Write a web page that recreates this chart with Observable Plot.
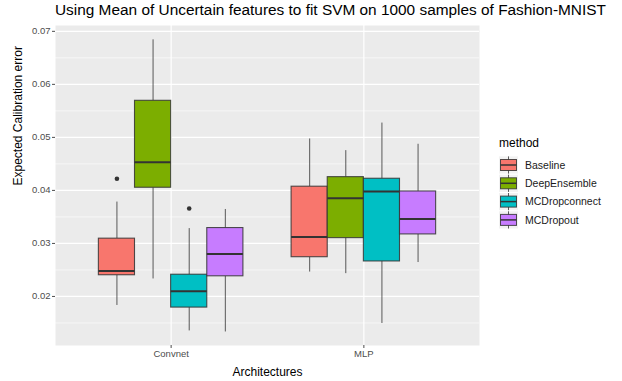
<!DOCTYPE html>
<html>
<head>
<meta charset="utf-8">
<script src="https://cdn.jsdelivr.net/npm/d3@7"></script>
<script src="https://cdn.jsdelivr.net/npm/@observablehq/plot@0.6"></script>
<style>
  html, body { margin: 0; padding: 0; background: #fff; }
  #wrap { position: relative; width: 622px; height: 381px; font-family: "Liberation Sans", Arial, sans-serif; }
  #title { position: absolute; left: 55px; top: 1px; font-size: 15.4px; color: #000; white-space: nowrap; }
  #legend { position: absolute; left: 490px; top: 130px; }
  #chart { position: absolute; left: 0; top: 0; }
</style>
</head>
<body>
<div id="wrap">
  <div id="chart"></div>
  <div id="title">Using Mean of Uncertain features to fit SVM on 1000 samples of Fashion-MNIST</div>
  <div id="legend"></div>
</div>
<script>
// ---- data ----
const architectures = ["Convnet", "MLP"];
const methods = ["Baseline", "DeepEnsemble", "MCDropconnect", "MCDropout"];
// order: Convnet (Baseline, DeepEnsemble, MCDropconnect, MCDropout), then MLP (same order)
const whiskerLow = [0.0183, 0.0233, 0.0135, 0.0133, 0.0246, 0.0243, 0.0149, 0.0264];
const q1 =         [0.0240, 0.0405, 0.0179, 0.0238, 0.0274, 0.0310, 0.0266, 0.0317];
const median =     [0.0248, 0.0453, 0.0210, 0.0280, 0.0312, 0.0385, 0.0398, 0.0346];
const q3 =         [0.0309, 0.0569, 0.0241, 0.0329, 0.0407, 0.0425, 0.0422, 0.0398];
const whiskerHigh =[0.0378, 0.0684, 0.0328, 0.0364, 0.0497, 0.0475, 0.0527, 0.0487];
const outlierArch = ["Convnet", "Convnet"];
const outlierMethod = ["Baseline", "MCDropconnect"];
const outlierValue = [0.0422, 0.0366];
const yTicks = [0.02, 0.03, 0.04, 0.05, 0.06, 0.07];
const yMinorTicks = [0.015, 0.025, 0.035, 0.045, 0.055, 0.065];
const colors = ["#F8766D", "#7CAE00", "#00BFC4", "#C77CFF"];

// ---- build table ----
const dodge = 0.75 / methods.length;
const pos = (a, m) => architectures.indexOf(a) + 1 + (methods.indexOf(m) - (methods.length - 1) / 2) * dodge;
const boxes = [];
architectures.forEach((a, ai) => methods.forEach((m, mi) => {
  const i = ai * methods.length + mi;
  boxes.push({arch: a, method: m, x: pos(a, m), x1: pos(a, m) - dodge / 2, x2: pos(a, m) + dodge / 2,
    lo: whiskerLow[i], q1: q1[i], med: median[i], q3: q3[i], hi: whiskerHigh[i]});
}));
const outliers = outlierValue.map((v, i) => ({x: pos(outlierArch[i], outlierMethod[i]), y: v}));

const plot = Plot.plot({
  width: 622, height: 381,
  marginTop: 25, marginLeft: 55, marginRight: 143, marginBottom: 36,
  style: {fontFamily: "Liberation Sans, Arial, sans-serif", background: "transparent"},
  x: {domain: [0.4, 2.6], label: null},
  y: {domain: [0.01075, 0.0711], label: null},
  color: {domain: methods, range: colors},
  marks: [
    Plot.frame({fill: "#EBEBEB", stroke: null}),
    Plot.gridY({ticks: yMinorTicks, stroke: "#fff", strokeOpacity: 1, strokeWidth: 0.6}),
    Plot.gridY({ticks: yTicks, stroke: "#fff", strokeOpacity: 1, strokeWidth: 1.2}),
    Plot.gridX({ticks: [1, 2], stroke: "#fff", strokeOpacity: 1, strokeWidth: 1.2}),
    Plot.ruleX(boxes, {x: "x", y1: "q3", y2: "hi", stroke: "#333", strokeWidth: 1, strokeOpacity: 0.8}),
    Plot.ruleX(boxes, {x: "x", y1: "lo", y2: "q1", stroke: "#333", strokeWidth: 1, strokeOpacity: 0.8}),
    Plot.rect(boxes, {x1: "x1", x2: "x2", y1: "q1", y2: "q3", fill: "method", stroke: "#333", strokeWidth: 1.1, strokeOpacity: 0.85}),
    Plot.ruleY(boxes, {x1: "x1", x2: "x2", y: "med", stroke: "#333", strokeWidth: 2}),
    Plot.dot(outliers, {x: "x", y: "y", r: 2.3, fill: "#333", stroke: null}),
    Plot.axisY({ticks: yTicks, tickFormat: d3.format(".2f"), tickSize: 3, tickPadding: 2, fontSize: 9.5, color: "#4D4D4D", label: null}),
    Plot.axisX({ticks: [1, 2], tickFormat: d => architectures[d - 1], tickSize: 3, tickPadding: 2, fontSize: 9.5, color: "#4D4D4D", label: null}),
    Plot.text(["Architectures"], {frameAnchor: "bottom", dy: 30, fontSize: 12, fill: "#000", text: d => d}),
    Plot.text(["Expected Calibration error"], {frameAnchor: "left", dx: -37, rotate: -90, fontSize: 12, fill: "#000", text: d => d})
  ]
});
document.getElementById("chart").appendChild(plot);

// ---- legend ----
const lg = d3.select("#legend").append("svg").attr("width", 132).attr("height", 110)
  .style("font-family", "Liberation Sans, Arial, sans-serif");
lg.append("text").attr("x", 9).attr("y", 17).attr("font-size", 12).attr("fill", "#000").text("method");
methods.forEach((m, i) => {
  const cy = 35 + i * 18.3;
  const g = lg.append("g");
  g.append("rect").attr("x", 9).attr("y", cy - 8.6).attr("width", 19).attr("height", 17.2).attr("fill", "#F2F2F2");
  g.append("line").attr("x1", 18.5).attr("x2", 18.5).attr("y1", cy - 8.6).attr("y2", cy + 8.6).attr("stroke", "#333").attr("stroke-opacity", 0.8);
  g.append("rect").attr("x", 10.5).attr("y", cy - 5.5).attr("width", 16).attr("height", 11).attr("fill", colors[i]).attr("stroke", "#333").attr("stroke-opacity", 0.85).attr("stroke-width", 1);
  g.append("line").attr("x1", 10.5).attr("x2", 26.5).attr("y1", cy).attr("y2", cy).attr("stroke", "#333").attr("stroke-width", 1.5);
  g.append("text").attr("x", 35).attr("y", cy).attr("dy", "0.35em").attr("font-size", 10.5).attr("fill", "#1a1a1a").text(m);
});
</script>
</body>
</html>
